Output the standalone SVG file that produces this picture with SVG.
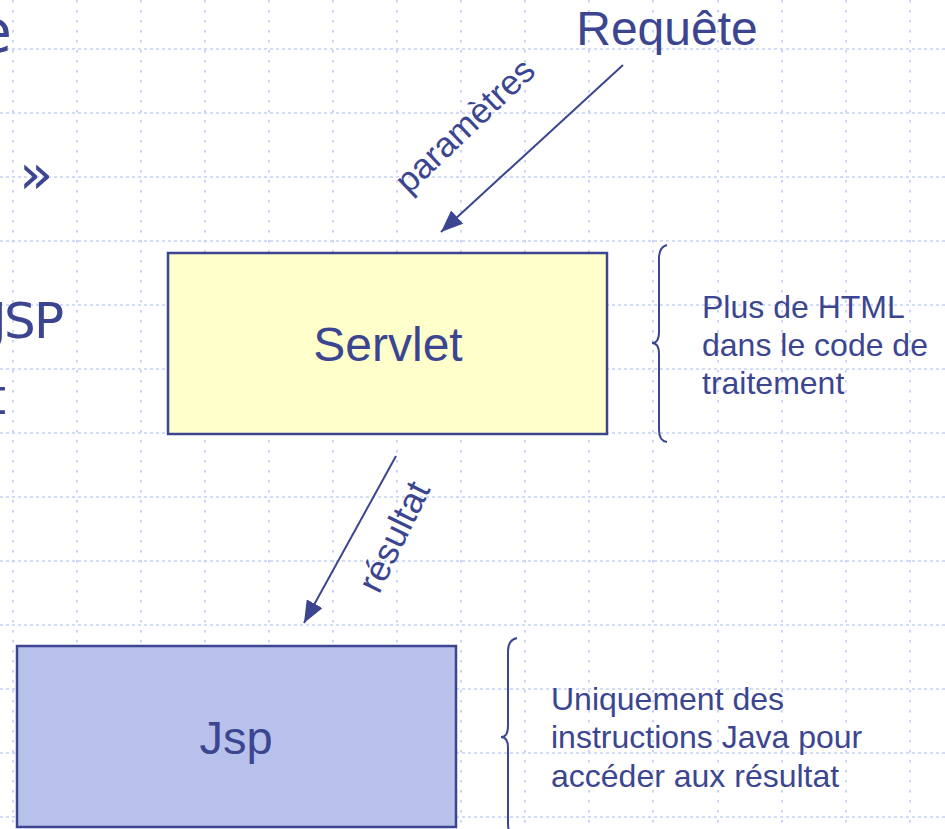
<svg xmlns="http://www.w3.org/2000/svg" width="945" height="829" viewBox="0 0 945 829">
  <style>
    .gh { stroke: #c3d1f6; stroke-width: 1.6; stroke-dasharray: 3 3; fill: none; }
    .gv { stroke: #c3d1f6; stroke-width: 1.8; stroke-dasharray: 2.5 7.5; fill: none; }
    .box { stroke: #3c4590; stroke-width: 2.5; }
    .txt { fill: #3c4590; font-family: "Liberation Sans", Arial, sans-serif; }
    .side { fill: #3c4590; font-family: "DejaVu Sans", Verdana, sans-serif; }
    .conn { stroke: #3c4590; stroke-width: 2; fill: none; }
    .brace { stroke: #3c4590; stroke-width: 2; fill: none; }
  </style>
  <defs>
    <marker id="arrow" viewBox="0 0 22 18" refX="22" refY="9" markerWidth="22" markerHeight="18" markerUnits="userSpaceOnUse" orient="auto">
      <path d="M0,0 L22,9 L0,18 Z" fill="#3c4590"/>
    </marker>
  </defs>

  <rect x="0" y="0" width="945" height="829" fill="#ffffff"/>

  <!-- background grid -->
  <g id="grid">
    <path class="gh" d="M0,49H945 M0,113H945 M0,177H945 M0,241H945 M0,305H945 M0,369H945 M0,433H945 M0,497H945 M0,561H945 M0,625H945 M0,689H945 M0,753H945 M0,817H945"/>
    <path class="gv" d="M13,0V829 M77,0V829 M141,0V829 M205,0V829 M269,0V829 M333,0V829 M397,0V829 M461,0V829 M525,0V829 M589,0V829 M653,0V829 M718,0V829 M782,0V829 M846,0V829 M910,0V829"/>
  </g>

  <!-- slide text running off the left edge -->
  <g id="side-text">
    <text class="side" x="12" y="52" font-size="58" text-anchor="end">e</text>
    <text class="side" x="19" y="193" font-size="56">»</text>
    <text class="side" y="338" font-size="50"><tspan x="-8">J</tspan><tspan x="4">S</tspan><tspan x="34">P</tspan></text>
    <text class="side" x="6" y="414" font-size="50" text-anchor="end">t</text>
  </g>

  <g id="requete">
    <text class="txt" x="667" y="45" font-size="48" text-anchor="middle">Requête</text>
  </g>

  <g id="servlet">
    <rect class="box" x="168" y="253" width="439" height="181" fill="#ffffcc"/>
    <text class="txt" x="388" y="361" font-size="48" text-anchor="middle">Servlet</text>
  </g>

  <g id="jsp">
    <rect class="box" x="17" y="646" width="439" height="181" fill="#b8c1eb"/>
    <text class="txt" x="236" y="754" font-size="47" text-anchor="middle">Jsp</text>
  </g>

  <g id="note-servlet">
    <path class="brace" d="M667,245 Q659,247 659,258 L659,332 Q659,343 652,343 Q659,343 659,354 L659,430 Q659,441 667,442"/>
    <text class="txt" font-size="32">
      <tspan x="702" y="318">Plus de HTML</tspan>
      <tspan x="702" y="356">dans le code de</tspan>
      <tspan x="702" y="394">traitement</tspan>
    </text>
  </g>

  <g id="note-jsp">
    <path class="brace" d="M517,638 Q508,640 508,651 L508,726 Q508,737 501,737 Q508,737 508,748 L508,824 Q508,835 517,836"/>
    <text class="txt" font-size="32">
      <tspan x="551" y="710">Uniquement des</tspan>
      <tspan x="551" y="748">instructions Java pour</tspan>
      <tspan x="551" y="787">accéder aux résultat</tspan>
    </text>
  </g>

  <!-- connectors -->
  <g id="connectors">
    <line class="conn" x1="623" y1="65" x2="441" y2="232" marker-end="url(#arrow)"/>
    <text class="txt" font-size="35" text-anchor="middle" transform="translate(473,134) rotate(-43.5)">paramètres</text>
    <line class="conn" x1="396" y1="456" x2="304" y2="623" marker-end="url(#arrow)"/>
    <text class="txt" font-size="36" text-anchor="middle" transform="translate(405,542) rotate(-64)">résultat</text>
  </g>
</svg>
